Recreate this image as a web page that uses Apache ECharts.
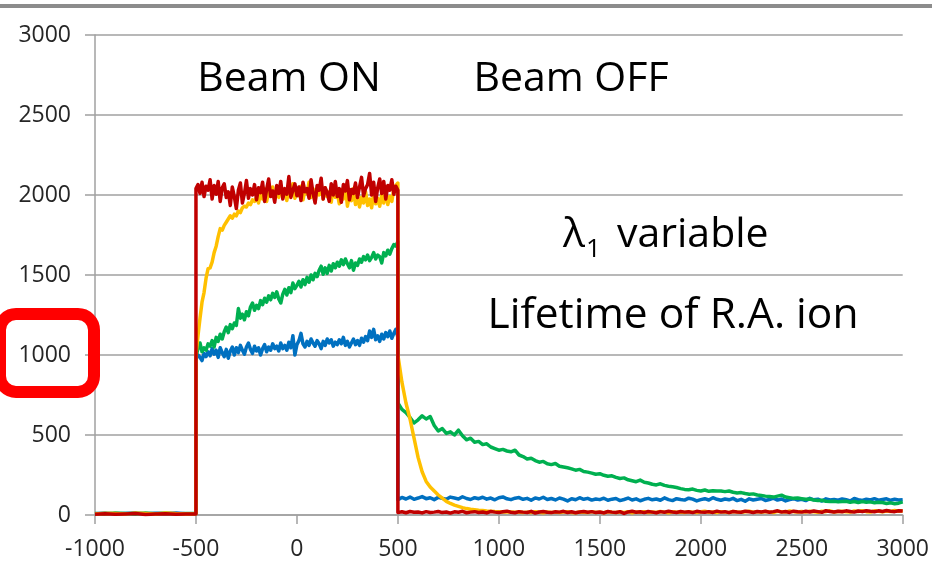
<!DOCTYPE html>
<html>
<head>
<meta charset="utf-8">
<script src="https://cdn.jsdelivr.net/npm/echarts@6/dist/echarts.min.js"></script>
<style>html,body{margin:0;padding:0;background:#fff}#c{width:932px;height:577px}</style>
</head>
<body>
<div id="c"></div>
<script>
// x-axis tick labels
var xTicks = [-1000, -500, 0, 500, 1000, 1500, 2000, 2500, 3000];
var yTicks = [0, 500, 1000, 1500, 2000, 2500, 3000];

// time segments: before beam (step 50), beam ON (step 10), beam OFF (step 20)
var timesPre = [-1000, -950, -900, -850, -800, -750, -700, -650, -600, -550, -500];
var timesOn = [];
for (var t = -500; t <= 500; t += 10) timesOn.push(t);
var timesOff = [];
for (var t2 = 500; t2 <= 3000; t2 += 20) timesOff.push(t2);

// Blue series
var bluePre = [8, 12, 6, 10, 14, 7, 11, 9, 13, 8, 10];
var blueOn = [
  975, 1000, 985, 965, 1010, 990, 1020, 995, 1040, 1005,
  1030, 985, 1045, 1015, 990, 1035, 980, 1025, 1050, 1000,
  1045, 1015, 1060, 1030, 1005, 1050, 1075, 1035, 1010, 1055,
  1025, 1045, 1000, 1040, 1065, 1020, 1050, 1030, 1070, 1040,
  1055, 1025, 1075, 1040, 1060, 1030, 1080, 1045, 1120, 1000,
  1065, 1090, 1135, 1070, 1050, 1085, 1060, 1100, 1075, 1055,
  1090, 1070, 1040, 1085, 1060, 1100, 1075, 1095, 1055, 1080,
  1065, 1095, 1070, 1110, 1060, 1085, 1050, 1075, 1100, 1065,
  1090, 1060, 1105, 1080, 1115, 1090, 1150, 1110, 1160, 1095,
  1120, 1085, 1130, 1100, 1140, 1115, 1150, 1105, 1135, 1160,
  1110];
var blueOff = [
  95, 110, 100, 112, 98, 106, 115, 102, 108, 96,
  110, 104, 98, 112, 106, 100, 114, 103, 97, 108,
  102, 111, 99, 106, 95, 108, 113, 101, 96, 105,
  109, 98, 104, 92, 107, 100, 111, 97, 103, 94,
  106, 99, 88, 102, 95, 108, 98, 104, 93, 100,
  96, 105, 92, 99, 103, 90, 97, 106, 94, 101,
  89, 98, 104, 95, 100, 92, 107, 96, 90, 102,
  97, 93, 105, 99, 88, 96, 102, 94, 108, 98,
  92, 100, 95, 104, 90, 98, 86, 101, 94, 99,
  103, 91, 97, 105, 93, 100, 88, 96, 102, 94,
  98, 90, 104, 95, 99, 87, 101, 94, 97, 92,
  100, 95, 88, 103, 96, 91, 99, 94, 102, 93,
  97, 101, 92, 98, 94, 96];

// Green series
var greenPre = [10, 7, 13, 9, 6, 12, 8, 11, 7, 10, 9];
var greenOn = [
  990, 1040, 1075, 1020, 1045, 1030, 1070, 1055, 1090, 1050,
  1110, 1085, 1130, 1100, 1145, 1175, 1140, 1190, 1165, 1200,
  1185, 1290, 1230, 1255, 1220, 1270, 1245, 1300, 1325, 1280,
  1310, 1290, 1340, 1315, 1355, 1330, 1370, 1345, 1385, 1360,
  1395, 1350, 1325, 1380, 1410, 1375, 1420, 1390, 1450, 1415,
  1435, 1460, 1425, 1470, 1440, 1485, 1455, 1500, 1470, 1510,
  1490, 1530, 1555, 1505, 1545, 1510, 1560, 1525, 1570, 1545,
  1580, 1555, 1595, 1565, 1600, 1570, 1545, 1590, 1530, 1575,
  1560, 1600, 1580, 1615, 1595, 1625, 1590, 1610, 1640, 1600,
  1625, 1615, 1575, 1640, 1620, 1655, 1630, 1665, 1690, 1680,
  1710];
var greenOff = [
  700, 660, 640, 610, 575, 595, 620, 600, 615, 560,
  525, 540, 510, 520, 500, 530, 495, 470, 480, 455,
  460, 440, 445, 425, 415, 405, 410, 400, 395, 405,
  375, 365, 350, 355, 340, 330, 335, 320, 315, 322,
  305, 300, 295, 288, 280, 285, 272, 268, 262, 255,
  258, 248, 242, 245, 235, 228, 232, 220, 214, 208,
  218, 205, 200, 192, 188, 195, 185, 180, 176, 172,
  165, 160, 158, 162, 154, 150, 156, 148, 152, 150,
  150, 146, 150, 142, 138, 140, 134, 130, 132, 125,
  122, 118, 115, 112, 118, 124, 112, 108, 104, 106,
  102, 98, 100, 94, 90, 92, 86, 84, 86, 82,
  84, 86, 80, 84, 78, 84, 80, 82, 76, 80,
  78, 72, 76, 70, 74, 82];

// Yellow series
var yellowPre = [6, 11, 9, 7, 12, 10, 6, 13, 9, 7, 8];
var yellowOn = [
  1000, 1120, 1230, 1330, 1390, 1480, 1540, 1545, 1580, 1640,
  1680, 1740, 1790, 1780, 1810, 1830, 1850, 1870, 1855, 1880,
  1870, 1900, 1890, 1920, 1930, 1925, 1950, 1940, 1970, 1960,
  1985, 1950, 2010, 1975, 2040, 1960, 2020, 1995, 2050, 1970,
  2015, 1985, 2060, 1990, 2030, 1965, 2045, 2005, 2070, 1980,
  2025, 1995, 2055, 1970, 2035, 2010, 2080, 1985, 2040, 1960,
  2030, 2000, 2065, 1975, 2045, 1990, 2020, 1955, 2050, 1985,
  2010, 1945, 2035, 1975, 2060, 1930, 2000, 1965, 2040, 1940,
  1995, 1925, 1985, 1950, 2020, 1935, 1975, 1920, 2010, 1945,
  1980, 1930, 2000, 1950, 2025, 1940, 1990, 1960, 2040, 2060,
  2075];
var yellowOff = [
  1000, 830, 700, 600, 480, 360, 270, 210, 175, 150,
  125, 105, 85, 72, 62, 54, 46, 40, 36, 33,
  30, 28, 25, 24, 22, 21, 19, 20, 18, 17,
  19, 16, 18, 15, 20, 17, 14, 19, 16, 18,
  15, 18, 20, 16, 14, 19, 17, 15, 21, 16,
  18, 14, 20, 17, 15, 19, 16, 21, 14, 18,
  17, 20, 15, 19, 16, 22, 18, 14, 20, 17,
  19, 16, 21, 18, 15, 20, 23, 17, 19, 16,
  21, 18, 16, 22, 19, 17, 20, 24, 18, 21,
  17, 22, 19, 16, 23, 20, 18, 25, 21, 19,
  22, 18, 24, 20, 17, 23, 21, 26, 19, 22,
  24, 20, 18, 25, 22, 27, 21, 19, 26, 23,
  20, 25, 22, 28, 24, 26];

// Red series
var redPre = [5, 8, 4, 7, 9, 3, 6, 8, 5, 7, 6];
var redOn = [
  2040, 2065, 2010, 2080, 1990, 2055, 2030, 2095, 1975, 2060,
  2005, 2085, 1960, 2045, 2070, 1985, 2020, 1935, 2050, 1990,
  1915, 2030, 2075, 1950, 2010, 2090, 1980, 2040, 2000, 2065,
  1970, 2045, 2015, 2080, 1960, 2035, 2100, 1990, 2025, 1955,
  2060, 2010, 2085, 1975, 2040, 2005, 2115, 1985, 2030, 2070,
  1995, 2050, 1965, 2080, 2020, 2040, 1980, 2095, 2010, 1950,
  2060, 2030, 2105, 1975, 2045, 2015, 1960, 2070, 2000, 2085,
  1990, 2040, 1955, 2065, 2025, 2090, 1970, 2035, 2010, 2075,
  1985, 2050, 2110, 1995, 2040, 2065, 2135, 2000, 2080, 1960,
  2045, 2100, 2010, 2085, 1975, 2060, 2030, 2095, 2005, 2055,
  2030];
var redOff = [
  15, 20, 14, 22, 17, 19, 13, 21, 16, 18,
  22, 15, 19, 12, 20, 17, 23, 14, 18, 21,
  16, 19, 13, 22, 18, 15, 20, 24, 17, 14,
  21, 18, 16, 23, 12, 19, 22, 17, 15, 20,
  18, 23, 16, 20, 14, 19, 22, 17, 21, 15,
  19, 13, 22, 18, 16, 21, 10, 19, 23, 17,
  20, 15, 22, 18, 14, 21, 17, 23, 19, 16,
  22, 18, 20, 15, 23, 19, 17, 21, 16, 24,
  18, 21, 15, 22, 19, 17, 24, 20, 16, 22,
  19, 23, 17, 21, 26, 18, 22, 16, 24, 20,
  18, 23, 19, 25, 21, 17, 27, 22, 19, 24,
  20, 26, 22, 18, 25, 21, 27, 23, 20, 26,
  22, 28, 24, 21, 27, 25];

function pairs(pre, on, off) {
  var out = [];
  var ts = timesPre.concat(timesOn, timesOff);
  var vs = pre.concat(on, off);
  for (var i = 0; i < ts.length && i < vs.length; i++) out.push([ts[i], vs[i]]);
  return out;
}

var FONT = '"Open Sans", "Liberation Sans", sans-serif';
var chart = echarts.init(document.getElementById('c'), null, {renderer: 'canvas'});

function lineSeries(name, color, data) {
  return {
    name: name, type: 'line', data: data, showSymbol: false, symbol: 'none',
    lineStyle: {color: color, width: 3.5, join: 'round'}, itemStyle: {color: color},
    emphasis: {disabled: true}, animation: false
  };
}

function plain(v) { return String(v); }

chart.setOption({
  animation: false,
  backgroundColor: '#ffffff',
  grid: {left: 95, right: 26, top: 35, bottom: 62, containLabel: false},
  xAxis: {
    type: 'value', min: xTicks[0], max: xTicks[xTicks.length - 1], interval: 500,
    axisLine: {show: true, onZero: false, lineStyle: {color: '#a0a0a0', width: 1.5}},
    axisTick: {show: true, length: 9, lineStyle: {color: '#a0a0a0', width: 1.5}},
    axisLabel: {color: '#262626', fontSize: 23, fontFamily: FONT, margin: 23, formatter: plain},
    splitLine: {show: false}
  },
  yAxis: {
    type: 'value', min: yTicks[0], max: yTicks[yTicks.length - 1], interval: 500,
    axisLine: {show: true, onZero: false, lineStyle: {color: '#a0a0a0', width: 1.5}},
    axisTick: {show: true, length: 10, lineStyle: {color: '#a0a0a0', width: 1.5}},
    axisLabel: {color: '#262626', fontSize: 23, fontFamily: FONT, margin: 24, formatter: plain},
    splitLine: {show: true, lineStyle: {color: '#a0a0a0', width: 1.5}}
  },
  series: [
    lineSeries('blue', '#0070C0', pairs(bluePre, blueOn, blueOff)),
    lineSeries('green', '#00B050', pairs(greenPre, greenOn, greenOff)),
    lineSeries('yellow', '#FFC000', pairs(yellowPre, yellowOn, yellowOff)),
    lineSeries('red', '#C00000', pairs(redPre, redOn, redOff))
  ],
  graphic: [
    {type: 'rect', left: 0, top: 4, shape: {width: 932, height: 4}, style: {fill: '#8c8c8c'}, silent: true},
    {type: 'rect', shape: {x: 0, y: 314, width: 94, height: 78, r: 16}, style: {fill: 'none', stroke: '#ff0000', lineWidth: 12}, silent: true, z: 100},
    {type: 'text', x: 289, y: 79, style: {text: 'Beam ON', font: '41px ' + FONT, fill: '#000', align: 'center', verticalAlign: 'middle'}, z: 100},
    {type: 'text', x: 571, y: 79, style: {text: 'Beam OFF', font: '41px ' + FONT, fill: '#000', align: 'center', verticalAlign: 'middle'}, z: 100},
    {type: 'text', x: 563, y: 235, style: {text: 'λ', font: '41px ' + FONT, fill: '#000', align: 'left', verticalAlign: 'middle'}, z: 100},
    {type: 'text', x: 586, y: 250, style: {text: '1', font: '26px ' + FONT, fill: '#000', align: 'left', verticalAlign: 'middle'}, z: 100},
    {type: 'text', x: 617, y: 235, style: {text: 'variable', font: '41px ' + FONT, fill: '#000', align: 'left', verticalAlign: 'middle'}, z: 100},
    {type: 'text', x: 673, y: 316, style: {text: 'Lifetime of R.A. ion', font: '42.5px ' + FONT, fill: '#000', align: 'center', verticalAlign: 'middle'}, z: 100}
  ]
});
</script>
</body>
</html>
